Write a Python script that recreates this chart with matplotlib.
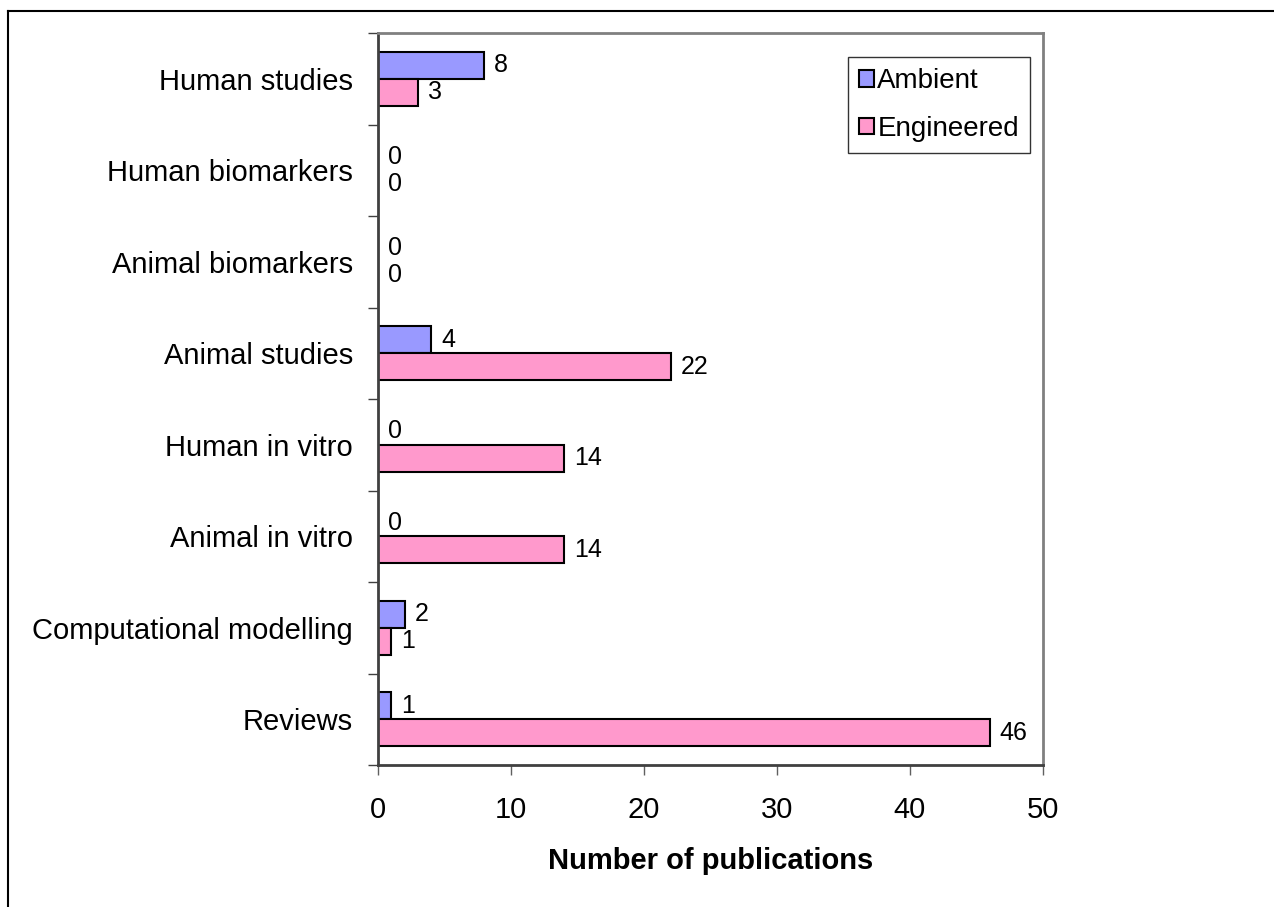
import matplotlib
matplotlib.use("Agg")
import matplotlib.pyplot as plt
import numpy as np
from matplotlib.lines import Line2D

categories = ["Human studies", "Human biomarkers", "Animal biomarkers", "Animal studies",
              "Human in vitro", "Animal in vitro", "Computational modelling", "Reviews"]
ambient = [8, 0, 0, 4, 0, 0, 2, 1]
engineered = [3, 0, 0, 22, 14, 14, 1, 46]
xticks = [0, 10, 20, 30, 40, 50]

plt.rcParams['font.family'] = ['Liberation Sans', 'DejaVu Sans']

fig = plt.figure(figsize=(12.74, 9.07), dpi=100)
ax = fig.add_axes([378/1274, 1-765/907, (1043-378)/1274, (765-33)/907])

n = len(categories)
pos = np.arange(n)  # 0 at top
bh = 0.295
c_amb = "#9999FF"
c_eng = "#FF99CC"
ax.barh(pos - bh/2, ambient, height=bh, color=c_amb, edgecolor="black", linewidth=1.5, label="Ambient")
ax.barh(pos + bh/2, engineered, height=bh, color=c_eng, edgecolor="black", linewidth=1.5, label="Engineered")

for i in range(n):
    ax.annotate(str(ambient[i]), (ambient[i], pos[i] - bh/2), xytext=(7, 0), textcoords="offset points",
                va="center", ha="left", fontsize=18)
    ax.annotate(str(engineered[i]), (engineered[i], pos[i] + bh/2), xytext=(7, 0), textcoords="offset points",
                va="center", ha="left", fontsize=18)

ax.set_xlim(0, 50)
ax.set_ylim(n - 0.5, -0.5)
ax.set_xticks(xticks)
ax.set_xticklabels([str(t) for t in xticks], fontsize=21)
ax.tick_params(axis='x', direction='out', length=7, width=1, pad=15, colors='#606060', labelcolor='black')
ax.set_yticks(pos)
ax.set_yticklabels(categories, fontsize=21)
ax.tick_params(axis='y', which='major', length=0, pad=18)
ax.set_yticks(np.arange(-0.5, n, 1.0), minor=True)
ax.tick_params(axis='y', which='minor', direction='out', length=7, width=1, colors='#404040')

for s in ['top', 'right']:
    ax.spines[s].set_color('#808080')
    ax.spines[s].set_linewidth(2)
ax.spines['left'].set_color('#404040')
ax.spines['left'].set_linewidth(2)
ax.spines['bottom'].set_color('#404040')
ax.spines['bottom'].set_linewidth(2)

ax.set_xlabel("Number of publications", fontsize=21, fontweight='bold', labelpad=17)

leg = ax.legend(loc='upper right', bbox_to_anchor=(1030/1274, 1-57/907), bbox_transform=fig.transFigure,
                fontsize=20, frameon=True, fancybox=False, edgecolor='black', handlelength=0.55,
                handleheight=0.55, handletextpad=0.12, borderpad=0.4, labelspacing=0.78, borderaxespad=0)
leg.get_frame().set_linewidth(1)

# outer border (left and top only visible)
fig.add_artist(Line2D([8/1274, 8/1274], [0, 1-11/907], transform=fig.transFigure, color='black', lw=1.5))
fig.add_artist(Line2D([8/1274, 1], [1-11/907, 1-11/907], transform=fig.transFigure, color='black', lw=1.5))

fig.savefig("out.png", dpi=100)
